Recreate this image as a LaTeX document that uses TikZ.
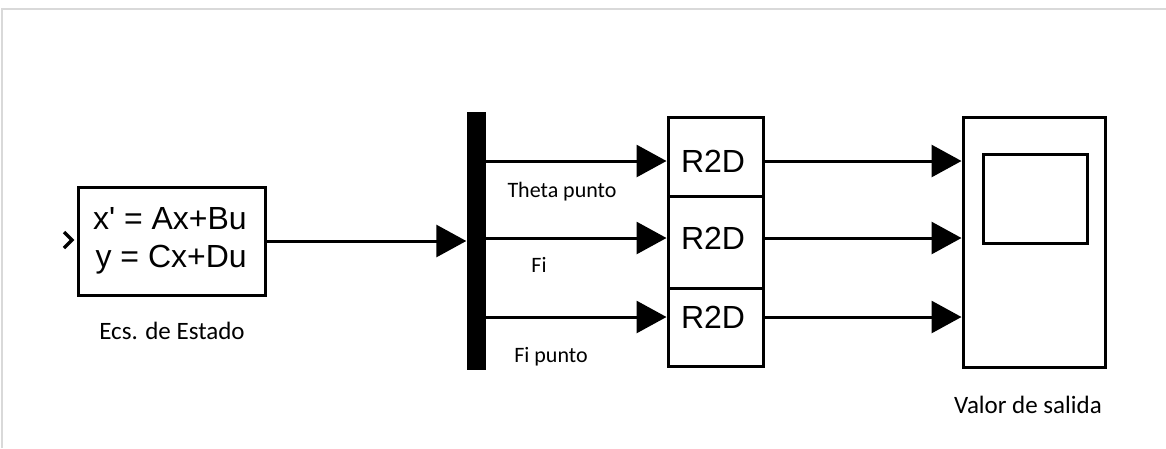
\documentclass[tikz,border=0pt]{standalone}
\usepackage{fontspec}
\setmainfont{Carlito}
\newfontfamily\arialfont{Liberation Sans}
\usetikzlibrary{arrows.meta}
\tikzset{
  arr/.style={line width=3pt, -{Triangle[length=30pt,width=32pt]}},
  lbl/.style={font=\fontsize{25}{30}\selectfont, inner sep=0pt},
  slbl/.style={font=\fontsize{22}{26}\selectfont, inner sep=0pt},
  boxtxt/.style={font=\arialfont\fontsize{32}{38}\selectfont, inner sep=0pt},
  r2dtxt/.style={font=\arialfont\fontsize{32}{36}\selectfont, inner sep=0pt},
  frame/.style={draw, line width=3pt, inner sep=0pt},
}
\begin{document}
\begin{tikzpicture}[x=1pt,y=-1pt]
\useasboundingbox (0,0) rectangle (1166,448);
\draw[gray!30, line width=1.2pt] (2,448) -- (2,9) -- (1166,9);
% state-space block
\node[frame, minimum width=187pt, minimum height=108pt] (ecs) at (171.5,241) {};
\node[boxtxt, align=right, anchor=east] (eq) at (247,241) {x' = Ax+Bu\\y = Cx+Du};
\draw[line width=3.5pt] (64,232) -- (72,240) -- (64,248);
\node[lbl] (ecsl) at (172,331) {Ecs. de Estado};
% demux bar
\node[fill=black, minimum width=19pt, minimum height=258pt, inner sep=0pt] (demux) at (476,241) {};
% R2D boxes
\node[frame, minimum width=95pt, minimum height=79pt] (b1) at (715.5,156.5) {};
\node[frame, minimum width=95pt, minimum height=92pt] (b2) at (715.5,242) {};
\node[frame, minimum width=95pt, minimum height=78pt] (b3) at (715.5,327) {};
\node[r2dtxt] (t1) at (713,161) {R2D};
\node[r2dtxt] (t2) at (713,238) {R2D};
\node[r2dtxt] (t3) at (713,317) {R2D};
% scope
\node[frame, minimum width=142pt, minimum height=250pt] (scope) at (1034,242) {};
\node[frame, minimum width=104pt, minimum height=89pt] (screen) at (1035,198.5) {};
\node[lbl] (vl) at (1028,405) {Valor de salida};
% labels
\node[slbl] (l1) at (562,192) {Theta punto};
\node[slbl] (l2) at (539,265) {Fi};
\node[slbl] (l3) at (551,357) {Fi punto};
% connectors
\draw[arr] (ecs.east |- demux.west) -- (demux.west);
\draw[arr] (demux.east |- t1) -- (b1.west |- t1);
\draw[arr] (demux.east |- t2) -- (b2.west |- t2);
\draw[arr] (demux.east |- t3) -- (b3.west |- t3);
\draw[arr] (b1.east |- t1) -- (scope.west |- t1);
\draw[arr] (b2.east |- t2) -- (scope.west |- t2);
\draw[arr] (b3.east |- t3) -- (scope.west |- t3);
\end{tikzpicture}
\end{document}
